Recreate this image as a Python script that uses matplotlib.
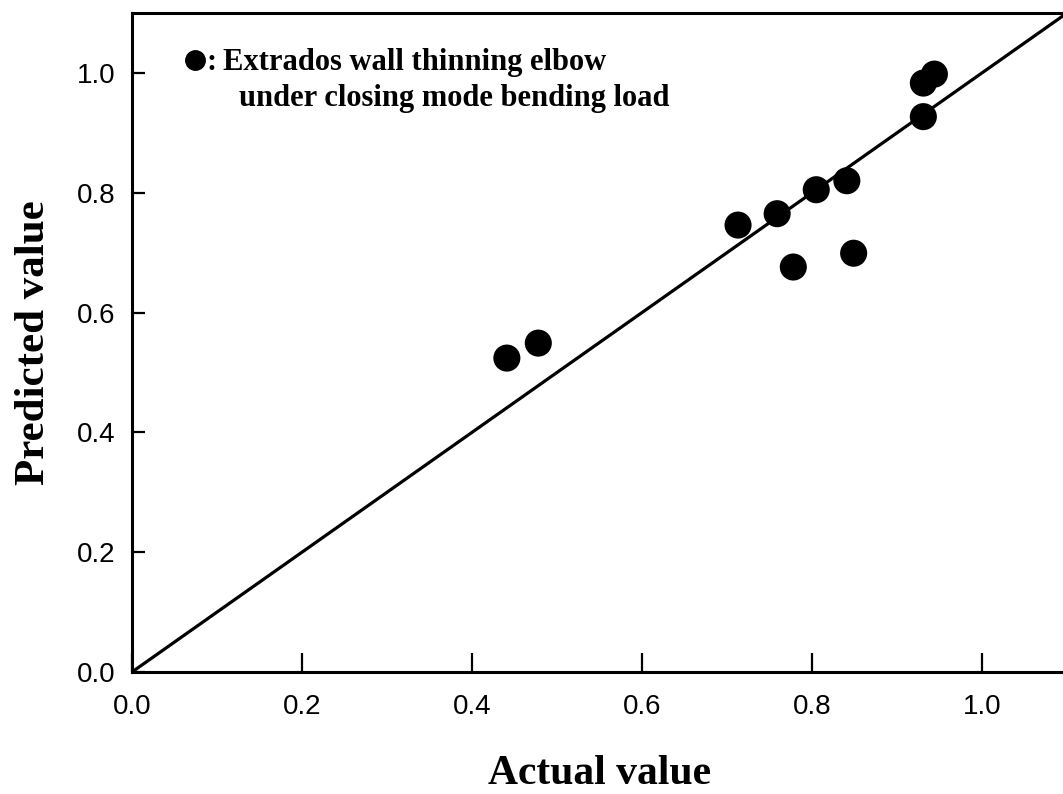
import matplotlib
matplotlib.use("Agg")
import matplotlib.pyplot as plt
import numpy as np

# Actual vs. predicted values for the extrados wall-thinning elbow
actual = [0.441, 0.478, 0.713, 0.759, 0.778, 0.805, 0.841, 0.849, 0.931, 0.931, 0.944]
predicted = [0.524, 0.549, 0.746, 0.765, 0.676, 0.805, 0.820, 0.699, 0.927, 0.983, 0.998]
ticks = [0.0, 0.2, 0.4, 0.6, 0.8, 1.0]
tick_labels = ["0.0", "0.2", "0.4", "0.6", "0.8", "1.0"]
axis_max = 1.1

fig = plt.figure(figsize=(10.63, 7.94), dpi=100)
ax = fig.add_axes([132 / 1063, 1 - 672 / 794, (1067 - 132) / 1063, (672 - 13) / 794])

# Reference line y = x
ax.plot([0, axis_max], [0, axis_max], color="black", lw=2.3, solid_capstyle="butt", zorder=2)
ax.scatter(actual, predicted, s=380, color="black", edgecolors="none", zorder=3)

ax.set_xlim(0, axis_max)
ax.set_ylim(0, axis_max)
ax.set_xticks(ticks)
ax.set_yticks(ticks)
ax.set_xticklabels(tick_labels, family="Liberation Sans", fontsize=20)
ax.set_yticklabels(tick_labels, family="Liberation Sans", fontsize=20)
ax.tick_params(axis="x", direction="in", length=14, width=1.6, pad=16)
ax.tick_params(axis="y", direction="in", length=9, width=1.6, pad=12)

for sp in ax.spines.values():
    sp.set_linewidth(2.2)

ax.set_xlabel("Actual value", family="Liberation Serif", fontweight="bold",
              fontsize=30, labelpad=25)
ax.set_ylabel("Predicted value", family="Liberation Serif", fontweight="bold",
              fontsize=31, labelpad=17)

# Legend note
ax.plot([0.0745], [1.022], marker="o", markersize=14, color="black",
        clip_on=False, zorder=4)
ax.text(0.0935, 1.018, ":", family="Liberation Serif",
        fontweight="bold", fontsize=22, va="center", ha="center")
ax.text(0.1065, 1.018, "Extrados wall thinning elbow", family="Liberation Serif",
        fontweight="bold", fontsize=22, va="center", ha="left")
ax.text(0.1255, 0.958, "under closing mode bending load", family="Liberation Serif",
        fontweight="bold", fontsize=22, va="center", ha="left")

fig.savefig("out.png", dpi=100)
